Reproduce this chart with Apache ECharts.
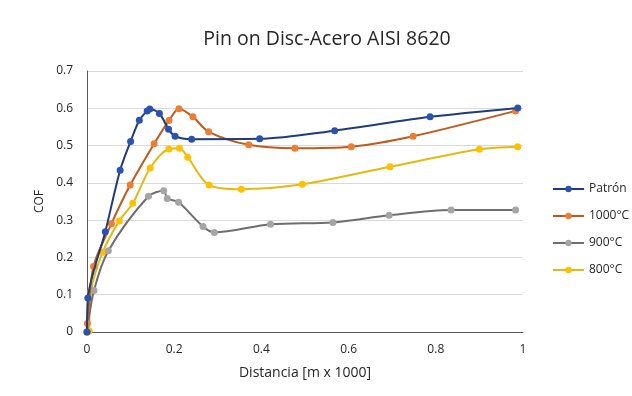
<!DOCTYPE html>
<html><head><meta charset="utf-8">
<script src="https://cdn.jsdelivr.net/npm/echarts@6/dist/echarts.min.js"></script>
<style>html,body{margin:0;padding:0;background:#fff}#c{width:632px;height:396px}</style>
</head><body><div id="c"></div>
<script>
const seriesNames = ['Patrón', '1000°C', '900°C', '800°C'];
const patronX = [0, 0.002, 0.042, 0.076, 0.100, 0.120, 0.138, 0.144, 0.166, 0.187, 0.202, 0.240, 0.396, 0.568, 0.787, 0.988];
const patronY = [0, 0.091, 0.269, 0.434, 0.511, 0.568, 0.593, 0.598, 0.586, 0.544, 0.525, 0.517, 0.518, 0.540, 0.577, 0.601];
const c1000X = [0, 0.001, 0.015, 0.056, 0.099, 0.154, 0.188, 0.211, 0.243, 0.279, 0.371, 0.477, 0.606, 0.748, 0.983];
const c1000Y = [0, 0.023, 0.176, 0.290, 0.394, 0.505, 0.567, 0.599, 0.577, 0.537, 0.502, 0.493, 0.497, 0.525, 0.593];
const c900X = [0, 0.016, 0.049, 0.141, 0.176, 0.184, 0.210, 0.266, 0.292, 0.421, 0.564, 0.693, 0.835, 0.983];
const c900Y = [0, 0.111, 0.218, 0.364, 0.379, 0.358, 0.348, 0.283, 0.267, 0.289, 0.294, 0.313, 0.327, 0.327];
const c800X = [0.005, 0.009, 0.036, 0.074, 0.105, 0.145, 0.188, 0.212, 0.231, 0.280, 0.354, 0.494, 0.695, 0.900, 0.988];
const c800Y = [0.003, 0.108, 0.214, 0.298, 0.345, 0.440, 0.491, 0.493, 0.469, 0.394, 0.383, 0.396, 0.443, 0.490, 0.497];
const xTicks = ['0', '0.2', '0.4', '0.6', '0.8', '1'];
const yTicks = ['0', '0.1', '0.2', '0.3', '0.4', '0.5', '0.6', '0.7'];

const lineColors = ['#1F3B7A', '#C05A1A', '#6E6E6E', '#E2BA10'];
const markColors = ['#2A52B0', '#ED7D31', '#A5A5A5', '#FFC000'];
const xs = [patronX, c1000X, c900X, c800X];
const ys = [patronY, c1000Y, c900Y, c800Y];
const FONT = 'Open Sans';

const chart = echarts.init(document.getElementById('c'), null, {renderer: 'canvas'});
chart.setOption({
  animation: false,
  backgroundColor: '#fff',
  textStyle: {fontFamily: FONT},
  title: {text: 'Pin on Disc-Acero AISI 8620', left: 322, top: 24, textAlign: 'center',
    textStyle: {fontFamily: FONT, fontSize: 19.5, fontWeight: 'normal', color: '#262626'}},
  grid: {left: 87, right: 109, top: 71, bottom: 64},
  legend: {orient: 'vertical', left: 552, top: 183, padding: 0, itemGap: 15, itemWidth: 31, itemHeight: 8,
    data: seriesNames, itemStyle: {borderWidth: 0},
    textStyle: {fontFamily: FONT, fontSize: 12, color: '#262626'}},
  xAxis: {type: 'value', min: 0, max: 1, interval: 0.2,
    name: 'Distancia [m x 1000]', nameLocation: 'middle', nameGap: 34,
    nameTextStyle: {fontFamily: FONT, fontSize: 14, color: '#262626'},
    axisLine: {lineStyle: {color: '#595959'}}, axisTick: {show: false},
    splitLine: {show: false},
    axisLabel: {fontFamily: FONT, fontSize: 12, color: '#262626', margin: 12,
      formatter: v => xTicks[Math.round(v / 0.2)]}},
  yAxis: {type: 'value', min: 0, max: 0.7, interval: 0.1,
    name: 'COF', nameLocation: 'middle', nameGap: 39, nameRotate: 90,
    nameTextStyle: {fontFamily: FONT, fontSize: 12, color: '#262626'},
    axisLine: {show: true, lineStyle: {color: '#595959'}}, axisTick: {show: false},
    splitLine: {lineStyle: {color: '#D9D9D9'}},
    axisLabel: {fontFamily: FONT, fontSize: 12, color: '#262626', margin: 14,
      formatter: v => yTicks[Math.round(v / 0.1)]}},
  series: seriesNames.map((n, i) => ({
    name: n, type: 'line', smooth: 0.3, symbol: 'circle', symbolSize: 7,
    lineStyle: {color: lineColors[i], width: 2},
    itemStyle: {color: markColors[i], borderWidth: 0},
    z: 10 - i,
    data: xs[i].map((x, k) => [x, ys[i][k]])
  }))
});
</script></body></html>
